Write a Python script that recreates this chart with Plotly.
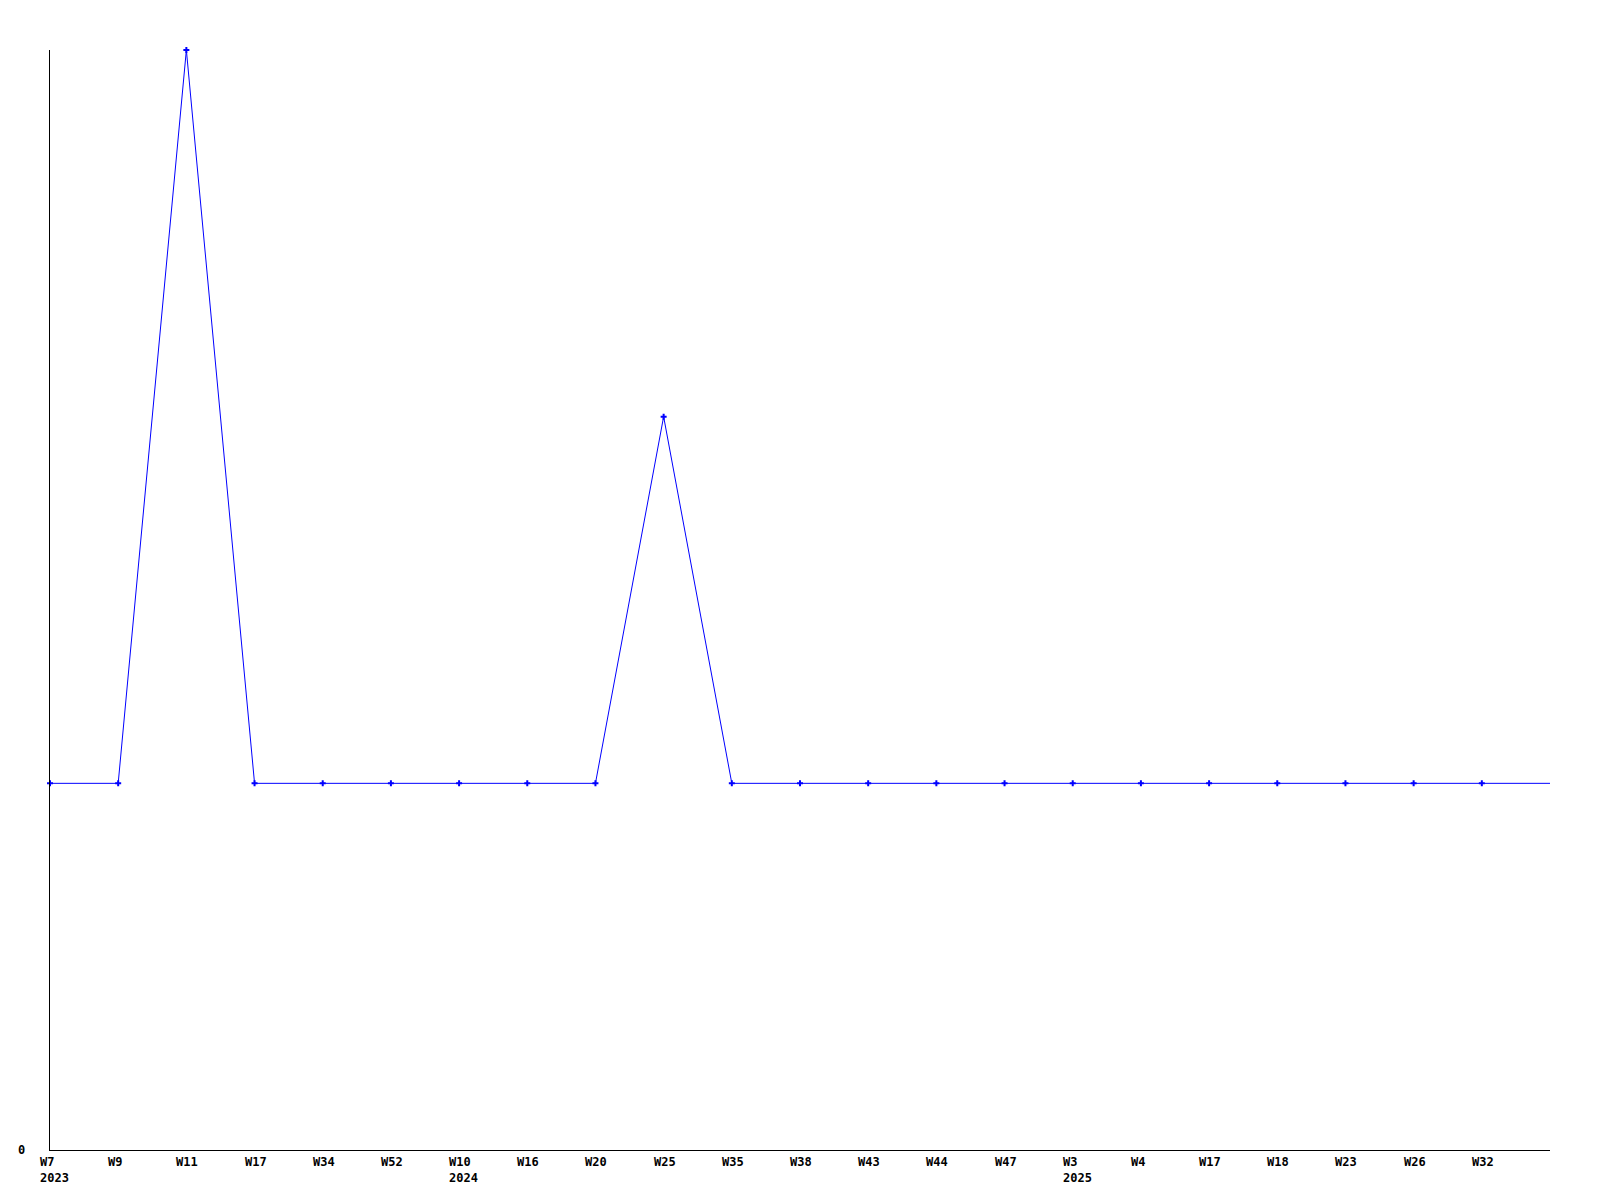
import plotly.graph_objects as go

weeks = ["W7", "W9", "W11", "W17", "W34", "W52", "W10", "W16", "W20", "W25", "W35",
         "W38", "W43", "W44", "W47", "W3", "W4", "W17", "W18", "W23", "W26", "W32"]
years = ["2023", "", "", "", "", "", "2024", "", "", "", "",
         "", "", "", "", "2025", "", "", "", "", "", ""]
values = [1, 1, 3, 1, 1, 1, 1, 1, 1, 2, 1, 1, 1, 1, 1, 1, 1, 1, 1, 1, 1, 1]
# trailing (current) value drawn as line only, at the right edge
tail_value = 1

n = len(weeks)
xs = list(range(n))

fig = go.Figure()
fig.add_trace(go.Scatter(
    x=xs + [n], y=values + [tail_value], mode="lines",
    line=dict(color="#0000ff", width=1), cliponaxis=False, hoverinfo="skip",
))
fig.add_trace(go.Scatter(
    x=xs, y=values, mode="markers",
    marker=dict(symbol="cross", size=5, color="#0000ff", line=dict(width=0)),
    cliponaxis=False,
))

font = dict(family="DejaVu Sans Mono", size=12, color="black")
annotations = []
for i, (w, yr) in enumerate(zip(weeks, years)):
    text = f"<b>{w}</b>" + (f"<br><b>{yr}</b>" if yr else "")
    annotations.append(dict(
        x=i, y=0, xref="x", yref="paper", text=text, showarrow=False,
        xanchor="left", yanchor="top", align="left", xshift=-12, yshift=-3,
        font=font,
    ))
annotations.append(dict(
    x=0, y=0, xref="paper", yref="y", text="<b>0</b>", showarrow=False,
    xanchor="right", yanchor="middle", xshift=-23, font=font,
))

fig.update_layout(
    width=1600, height=1200,
    margin=dict(l=42, r=58, t=42, b=58),
    paper_bgcolor="white", plot_bgcolor="white",
    showlegend=False,
    xaxis=dict(range=[0, n], showgrid=False, zeroline=False, showticklabels=False,
               ticks="", showline=True, linecolor="black", linewidth=1),
    yaxis=dict(range=[0, 3], showgrid=False, zeroline=False, showticklabels=False,
               ticks="", showline=True, linecolor="black", linewidth=1),
    annotations=annotations,
)

fig.write_html("out.html")
